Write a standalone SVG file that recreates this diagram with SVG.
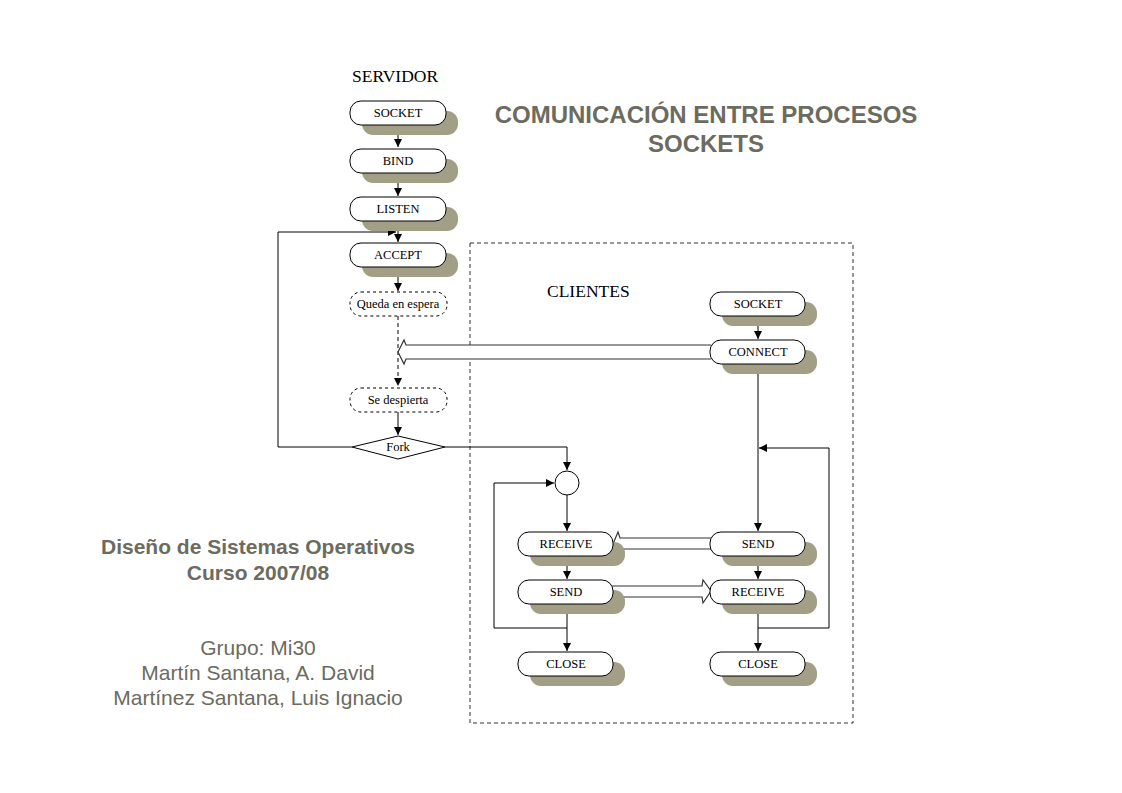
<svg xmlns="http://www.w3.org/2000/svg" width="1122" height="793" viewBox="0 0 1122 793">
<defs>
<style>
.box{fill:#fff;stroke:#000;stroke-width:1}
.dbox{fill:#fff;stroke:#000;stroke-width:1;stroke-dasharray:3,3}
.sh{fill:#a39f87}
.lbl{font-family:"Liberation Serif","Times New Roman",serif;font-size:12.5px;fill:#000;text-anchor:middle}
.hdr{font-family:"Liberation Serif","Times New Roman",serif;font-size:17.5px;fill:#000}
.ln{fill:none;stroke:#000;stroke-width:1}
.dl{fill:none;stroke:#000;stroke-width:1;stroke-dasharray:4,3}
.hol{fill:#fff;stroke:#333;stroke-width:1.2}
.tt{font-family:"Liberation Sans",Arial,sans-serif;font-weight:bold;fill:#6b6b60;text-anchor:middle}
.ft{font-family:"Liberation Sans",Arial,sans-serif;font-size:21px;fill:#6b6b60;text-anchor:middle}
</style>
<marker id="ah" viewBox="0 0 10 10" refX="10" refY="5" markerWidth="8" markerHeight="8" markerUnits="userSpaceOnUse" orient="auto">
<path d="M0,0 L10,5 L0,10 Z" fill="#000"/>
</marker>
</defs>
<rect width="1122" height="793" fill="#fff"/>

<text class="tt" x="706" y="123" font-size="24">COMUNICACIÓN ENTRE PROCESOS</text>
<text class="tt" x="706" y="152" font-size="24">SOCKETS</text>
<text class="tt" x="258" y="554" font-size="21">Diseño de Sistemas Operativos</text>
<text class="tt" x="258" y="580" font-size="21">Curso 2007/08</text>
<text class="ft" x="258" y="655">Grupo: Mi30</text>
<text class="ft" x="258" y="680">Martín Santana, A. David</text>
<text class="ft" x="258" y="705">Martínez Santana, Luis Ignacio</text>

<text class="hdr" x="352" y="82">SERVIDOR</text>
<rect x="470" y="243" width="383" height="480" fill="none" stroke="#333" stroke-width="1" stroke-dasharray="4,3"/>
<text class="hdr" x="547" y="297">CLIENTES</text>

<g id="connectors">
<path class="ln" d="M398,124 V147" marker-end="url(#ah)"/>
<path class="ln" d="M398,173 V196" marker-end="url(#ah)"/>
<path class="ln" d="M398,221 V242" marker-end="url(#ah)"/>
<path class="ln" d="M398,267 V291" marker-end="url(#ah)"/>
<path class="dl" d="M398,316 V386" marker-end="url(#ah)"/>
<path class="ln" d="M398,412 V435" marker-end="url(#ah)"/>
<path class="ln" d="M352,447 H278 V232 H396" marker-end="url(#ah)"/>
<path class="ln" d="M445,447 H567 V470" marker-end="url(#ah)"/>
<path class="ln" d="M567,495 V531" marker-end="url(#ah)"/>
<path class="ln" d="M567,556 V579" marker-end="url(#ah)"/>
<path class="ln" d="M567,604 V651" marker-end="url(#ah)"/>
<path class="ln" d="M567,628 H494 V483 H554" marker-end="url(#ah)"/>
<path class="ln" d="M758,315 V339" marker-end="url(#ah)"/>
<path class="ln" d="M758,363 V531" marker-end="url(#ah)"/>
<path class="ln" d="M758,556 V579" marker-end="url(#ah)"/>
<path class="ln" d="M758,604 V651" marker-end="url(#ah)"/>
<path class="ln" d="M758,628 H829 V448 H759" marker-end="url(#ah)"/>
<path class="hol" d="M711,345 H406 L404,340 L398,352 L404,364 L406,359 H711"/>
<path class="hol" d="M711,538 H620 L618,532 L613,544 L618,556 L620,549 H711"/>
<path class="hol" d="M612,586 H702 L703,580 L711,591 L703,603 L702,597 H612"/>
</g>

<g id="s_socket"><rect class="sh" x="362" y="111" width="96" height="24" rx="11"/><rect class="box" x="350" y="101" width="96" height="24" rx="11"/><text class="lbl" x="398" y="117">SOCKET</text></g>
<g id="s_bind"><rect class="sh" x="362" y="159" width="96" height="24" rx="11"/><rect class="box" x="350" y="149" width="96" height="24" rx="11"/><text class="lbl" x="398" y="165">BIND</text></g>
<g id="s_listen"><rect class="sh" x="362" y="207" width="96" height="24" rx="11"/><rect class="box" x="350" y="197" width="96" height="24" rx="11"/><text class="lbl" x="398" y="213">LISTEN</text></g>
<g id="s_accept"><rect class="sh" x="362" y="253" width="96" height="24" rx="11"/><rect class="box" x="350" y="243" width="96" height="24" rx="11"/><text class="lbl" x="398" y="259">ACCEPT</text></g>
<g id="s_espera"><rect class="dbox" x="350" y="292" width="97" height="24" rx="11"/><text class="lbl" x="398" y="308">Queda en espera</text></g>
<g id="s_despierta"><rect class="dbox" x="350" y="388" width="97" height="24" rx="11"/><text class="lbl" x="398" y="404">Se despierta</text></g>
<g id="s_fork"><path class="box" d="M352,447 L398,436 L445,447 L398,459 Z"/><text class="lbl" x="398" y="451">Fork</text></g>
<g id="junction"><circle class="box" cx="567" cy="483" r="12"/></g>

<g id="s_receive"><rect class="sh" x="530" y="542" width="95" height="24" rx="11"/><rect class="box" x="518" y="532" width="95" height="24" rx="11"/><text class="lbl" x="566" y="548">RECEIVE</text></g>
<g id="s_send"><rect class="sh" x="530" y="590" width="95" height="24" rx="11"/><rect class="box" x="518" y="580" width="95" height="24" rx="11"/><text class="lbl" x="566" y="596">SEND</text></g>
<g id="s_close"><rect class="sh" x="530" y="662" width="95" height="24" rx="11"/><rect class="box" x="518" y="652" width="95" height="24" rx="11"/><text class="lbl" x="566" y="668">CLOSE</text></g>

<g id="c_socket"><rect class="sh" x="722" y="302" width="95" height="24" rx="11"/><rect class="box" x="710" y="292" width="95" height="24" rx="11"/><text class="lbl" x="758" y="308">SOCKET</text></g>
<g id="c_connect"><rect class="sh" x="722" y="350" width="95" height="24" rx="11"/><rect class="box" x="710" y="340" width="95" height="24" rx="11"/><text class="lbl" x="758" y="356">CONNECT</text></g>
<g id="c_send"><rect class="sh" x="722" y="542" width="95" height="24" rx="11"/><rect class="box" x="710" y="532" width="95" height="24" rx="11"/><text class="lbl" x="758" y="548">SEND</text></g>
<g id="c_receive"><rect class="sh" x="722" y="590" width="95" height="24" rx="11"/><rect class="box" x="710" y="580" width="95" height="24" rx="11"/><text class="lbl" x="758" y="596">RECEIVE</text></g>
<g id="c_close"><rect class="sh" x="722" y="662" width="95" height="24" rx="11"/><rect class="box" x="710" y="652" width="95" height="24" rx="11"/><text class="lbl" x="758" y="668">CLOSE</text></g>
</svg>
